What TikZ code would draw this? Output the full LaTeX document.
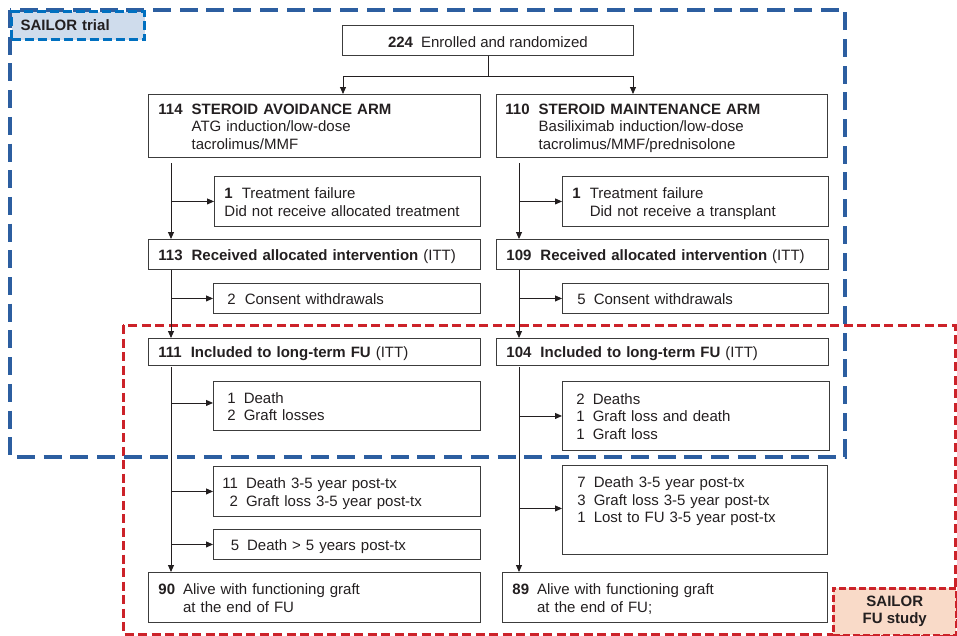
\documentclass[tikz,border=0pt]{standalone}
\usepackage{fontspec}
\setmainfont{Liberation Sans}
\usetikzlibrary{arrows.meta,calc}
\definecolor{txt}{RGB}{35,31,32}
\definecolor{bord}{RGB}{60,60,60}
\definecolor{sblue}{RGB}{44,94,160}
\definecolor{lblue}{RGB}{0,112,192}
\definecolor{lbfill}{RGB}{207,220,236}
\definecolor{sred}{RGB}{204,34,41}
\definecolor{rfill}{RGB}{249,218,200}
\newcommand\tb[2]{\raisebox{-2.5pt}[\height][\depth]{\begin{tabular}{#1}#2\end{tabular}}}
\begin{document}
\begin{tikzpicture}[x=1pt,y=-1pt,
  box/.style={draw=bord, line width=0.9pt, rectangle, anchor=north west, inner xsep=0pt, inner ysep=0pt,
    align=left, text=txt, font=\fontsize{15}{17.5}\selectfont},
  arr/.style={draw=txt, line width=0.9pt, -{Triangle[length=7pt,width=6pt]}},
  ln/.style={draw=txt, line width=0.9pt}]
\useasboundingbox (0,0) rectangle (957,635);

% study regions
\draw[sred, line width=3pt, dash pattern=on 9pt off 4.5pt] (123,325) rectangle (955,634);
\draw[sblue, line width=3.5pt, dash pattern=on 18pt off 8.7pt] (10,10) rectangle (845,457);
\node[draw=lblue, fill=lbfill, line width=3pt, dash pattern=on 9pt off 4pt, anchor=north west,
  minimum width=133pt, minimum height=28pt, text width=115pt, inner xsep=0pt, inner ysep=0pt, align=left,
  text=txt, font=\fontsize{15}{17.5}\selectfont\bfseries] (tlab) at (10,10) {SAILOR trial};
\node[draw=sred, fill=rfill, line width=2.5pt, dash pattern=on 7pt off 3pt, anchor=north west,
  minimum width=123pt, minimum height=47pt, inner sep=0pt, align=center,
  text=txt, font=\fontsize{15}{17}\selectfont\bfseries] (flab) at (832,587) {SAILOR\\FU study};

% boxes
\node[box, minimum width=291pt, minimum height=30pt] (enr) at (342,25) {\raisebox{-1.5pt}[\height][\depth]{\textbf{224}\hspace{8pt}Enrolled and randomized}};

\node[box, minimum width=332pt, minimum height=63pt, text width=312pt] (armL) at (148,94)
 {\tb{@{}l@{\hspace{9pt}}l@{}}{\textbf{114} & \textbf{STEROID AVOIDANCE ARM}\\ & ATG induction/low-dose\\ & tacrolimus/MMF}};
\node[box, minimum width=331pt, minimum height=63pt, text width=313pt] (armR) at (496,94)
 {\tb{@{}l@{\hspace{9pt}}l@{}}{\textbf{110} & \textbf{STEROID MAINTENANCE ARM}\\ & Basiliximab induction/low-dose\\ & tacrolimus/MMF/prednisolone}};

\node[box, minimum width=266pt, minimum height=50pt, text width=246pt] (tfL) at (214,176)
 {\tb{@{}l@{\hspace{9pt}}l@{}}{\textbf{1} & Treatment failure\\ \multicolumn{2}{@{}l@{}}{Did not receive allocated treatment}}};
\node[box, minimum width=266pt, minimum height=50pt, text width=246pt] (tfR) at (562,176)
 {\tb{@{}l@{\hspace{9pt}}l@{}}{\textbf{1} & Treatment failure\\ & Did not receive a transplant}};

\node[box, minimum width=332pt, minimum height=30pt, text width=312pt] (recL) at (148,239)
 {\tb{@{}l@{\hspace{9pt}}l@{}}{\textbf{113} & \textbf{Received allocated intervention} (ITT)}};
\node[box, minimum width=332pt, minimum height=30pt, text width=312pt] (recR) at (496,239)
 {\tb{@{}l@{\hspace{9pt}}l@{}}{\textbf{109} & \textbf{Received allocated intervention} (ITT)}};

\node[box, minimum width=267pt, minimum height=30pt, text width=239pt] (cwL) at (213,283)
 {\tb{@{}l@{\hspace{9pt}}l@{}}{2 & Consent withdrawals}};
\node[box, minimum width=266pt, minimum height=30pt, text width=236pt] (cwR) at (562,283)
 {\tb{@{}l@{\hspace{8pt}}l@{}}{5 & Consent withdrawals}};

\node[box, minimum width=332pt, minimum height=27pt, text width=312pt] (incL) at (148,338)
 {\tb{@{}l@{\hspace{9pt}}l@{}}{\textbf{111} & \textbf{Included to long-term FU} (ITT)}};
\node[box, minimum width=332pt, minimum height=27pt, text width=312pt] (incR) at (496,338)
 {\tb{@{}l@{\hspace{9pt}}l@{}}{\textbf{104} & \textbf{Included to long-term FU} (ITT)}};

\node[box, minimum width=267pt, minimum height=49pt, text width=239pt] (dL) at (213,381)
 {\tb{@{}l@{\hspace{8pt}}l@{}}{1 & Death\\ 2 & Graft losses}};
\node[box, minimum width=267pt, minimum height=69pt, text width=239pt] (dR) at (562,381)
 {\tb{@{}l@{\hspace{8pt}}l@{}}{2 & Deaths\\ 1 & Graft loss and death\\ 1 & Graft loss}};

\node[box, minimum width=267pt, minimum height=50pt, text width=249pt] (d35L) at (213,466)
 {\tb{@{}r@{\hspace{8pt}}l@{}}{11 & Death 3-5 year post-tx\\ 2 & Graft loss 3-5 year post-tx}};
\node[box, minimum width=267pt, minimum height=30pt, text width=249pt] (d5L) at (213,529)
 {\tb{@{}r@{\hspace{8pt}}l@{}}{\phantom{1}5 & Death > 5 years post-tx}};
\node[box, minimum width=265pt, minimum height=89pt, text width=235pt] (d35R) at (562,465)
 {\tb{@{}l@{\hspace{8pt}}l@{}}{7 & Death 3-5 year post-tx\\ 3 & Graft loss 3-5 year post-tx\\ 1 & Lost to FU 3-5 year post-tx\\[21pt]}};

\node[box, minimum width=332pt, minimum height=50pt, text width=312pt] (aliveL) at (148,572)
 {\tb{@{}l@{\hspace{8pt}}l@{}}{\textbf{90} & Alive with functioning graft\\ & at the end of FU}};
\node[box, minimum width=325pt, minimum height=50pt, text width=305pt] (aliveR) at (502,572)
 {\tb{@{}l@{\hspace{8pt}}l@{}}{\textbf{89} & Alive with functioning graft\\ & at the end of FU;}};

% randomisation split
\draw[ln] (enr.south) -- ++(0,21) coordinate (br);
\draw[arr] (br) -| ([xshift=195pt]armL.north west);
\draw[arr] (br) -| ([xshift=137pt]armR.north west);

% left arm flow
\coordinate (L1) at (171,163);
\draw[arr] (L1) -- (L1 |- recL.north);
\draw[arr] (L1 |- tfL.west) -- (tfL.west);
\draw[arr] (recL.south -| L1) -- (incL.north -| L1);
\draw[arr] (L1 |- cwL.west) -- (cwL.west);
\coordinate (L3) at (171,367);
\draw[arr] (L3) -- (L3 |- aliveL.north);
\draw[arr] ($(L3 |- dL.west)+(0,-3)$) -- ($(dL.west)+(0,-3)$);
\draw[arr] (L3 |- d35L.west) -- (d35L.west);
\draw[arr] (L3 |- d5L.west) -- (d5L.west);

% right arm flow
\coordinate (R1) at (519,163);
\draw[arr] (R1) -- (R1 |- recR.north);
\draw[arr] (R1 |- tfR.west) -- (tfR.west);
\draw[arr] (recR.south -| R1) -- (incR.north -| R1);
\draw[arr] (R1 |- cwR.west) -- (cwR.west);
\coordinate (R3) at (519,367);
\draw[arr] (R3) -- (R3 |- aliveR.north);
\draw[arr] (R3 |- dR.west) -- (dR.west);
\draw[arr] ($(R3 |- d35R.west)+(0,-1.5)$) -- ($(d35R.west)+(0,-1.5)$);
\end{tikzpicture}
\end{document}
